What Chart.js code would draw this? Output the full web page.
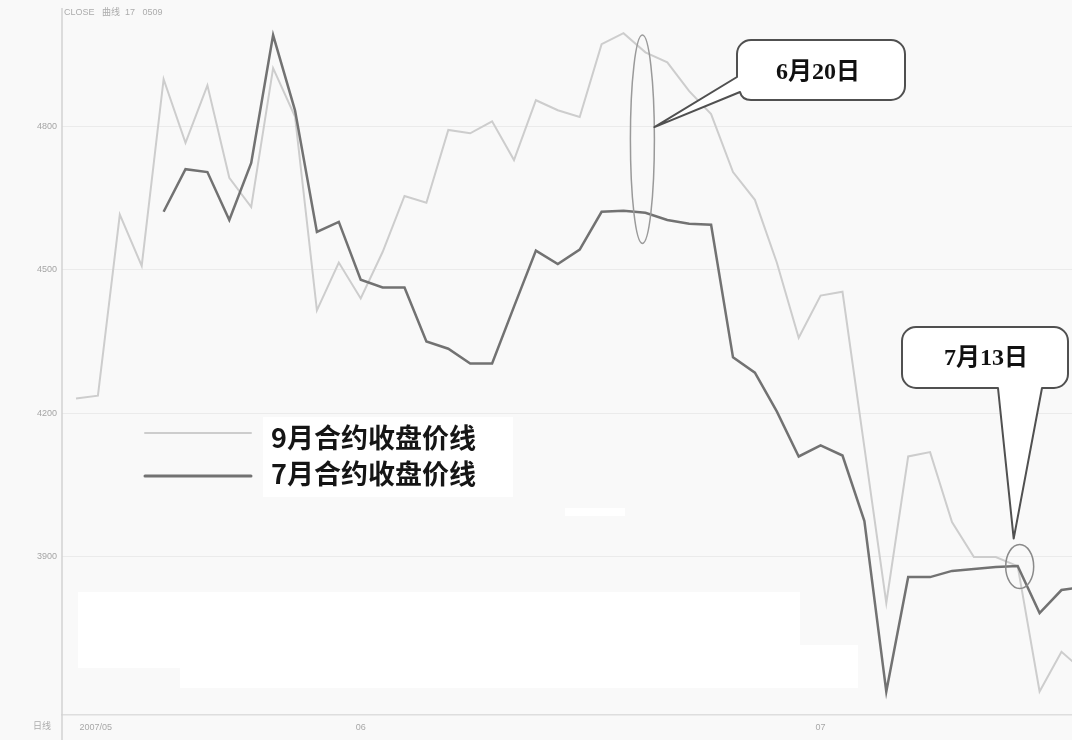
<!DOCTYPE html>
<html>
<head>
  <meta charset="UTF-8" />
  <title>9月与7月合约收盘价线</title>
  <script src="https://cdn.jsdelivr.net/npm/chart.js"></script>
  <style>
    html, body { margin: 0; padding: 0; background: #f9f9f9; overflow: hidden; }
    #wrap { width: 1072px; height: 740px; }
  </style>
</head>
<body>
  <div id="wrap"><canvas id="chart" width="1072" height="740"></canvas></div>

  <script>
    // trading days, 2007-05-15 .. 2007-07-18
    const dates = [
      '05-15','05-16','05-17','05-18','05-21','05-22','05-23','05-24','05-25','05-28','05-29','05-30','05-31',
      '06-01','06-04','06-05','06-06','06-07','06-08','06-11','06-12','06-13','06-14','06-15','06-18','06-19',
      '06-20','06-21','06-22','06-25','06-26','06-27','06-28','06-29',
      '07-02','07-03','07-04','07-05','07-06','07-09','07-10','07-11','07-12','07-13','07-16','07-17','07-18'
    ];
    // 9月合约收盘价
    const sep9 = [
      4231, 4237, 4615, 4508, 4898, 4765, 4885, 4692, 4631, 4921,
      4820, 4415, 4515, 4440, 4537, 4654, 4640, 4792, 4785, 4810,
      4729, 4854, 4833, 4819, 4971, 4994, 4954, 4933, 4873, 4825,
      4704, 4646, 4515, 4358, 4446, 4454, 4129, 3804, 4110, 4119,
      3973, 3900, 3900, 3881, 3619, 3702, 3662
    ];
    // 7月合约收盘价
    const jul7 = [
      null, null, null, null, 4621, 4710, 4704, 4604, 4723, 4990,
      4833, 4579, 4600, 4479, 4463, 4463, 4350, 4335, 4304, 4304,
      4423, 4540, 4512, 4542, 4621, 4623, 4619, 4604, 4596, 4594,
      4317, 4285, 4204, 4110, 4133, 4112, 3975, 3619, 3858, 3858,
      3871, 3875, 3879, 3881, 3783, 3831, 3838
    ];
    const yTicks = [3900, 4200, 4500, 4800];
    const xTickPos = [0.9, 13, 34];
    const xTickLabels = ['2007/05', '06', '07'];
    const legendNames = ['9月合约收盘价线', '7月合约收盘价线'];

    const toPoints = arr => arr.map((v, i) => ({ x: i, y: v }));

    const decor = {
      id: 'decor',
      beforeDraw(chart) {
        const ctx = chart.ctx;
        ctx.save();
        ctx.fillStyle = '#f9f9f9';
        ctx.fillRect(0, 0, chart.width, chart.height);
        // erased patches of the scan
        ctx.fillStyle = '#ffffff';
        ctx.fillRect(78, 592, 722, 76);
        ctx.fillRect(180, 645, 678, 43);
        ctx.fillRect(565, 508, 60, 8);
        ctx.restore();
      },
      afterDraw(chart) {
        const ctx = chart.ctx;
        const xs = chart.scales.x, ys = chart.scales.y;
        ctx.save();

        // y axis line
        ctx.strokeStyle = '#d2d2d2';
        ctx.lineWidth = 1.5;
        ctx.beginPath();
        ctx.moveTo(62, 8);
        ctx.lineTo(62, 740);
        ctx.stroke();

        // small header / footer texts
        ctx.fillStyle = '#acacac';
        ctx.font = '9px "Liberation Sans", "Noto Sans CJK SC"';
        ctx.textBaseline = 'middle';
        ctx.textAlign = 'left';
        ctx.fillText('CLOSE   曲线  17   0509', 64, 13);
        ctx.textAlign = 'center';
        ctx.fillText('日线', 42, 727);

        // legend
        ctx.fillStyle = '#ffffff';
        ctx.fillRect(263, 417, 250, 80);
        ctx.lineCap = 'round';
        ctx.strokeStyle = '#cdcdcd';
        ctx.lineWidth = 2;
        ctx.beginPath(); ctx.moveTo(145, 433); ctx.lineTo(251, 433); ctx.stroke();
        ctx.strokeStyle = '#727272';
        ctx.lineWidth = 3;
        ctx.beginPath(); ctx.moveTo(145, 476); ctx.lineTo(251, 476); ctx.stroke();
        ctx.fillStyle = '#151515';
        ctx.font = 'bold 27px "Noto Sans CJK SC"';
        ctx.textAlign = 'left';
        ctx.textBaseline = 'middle';
        ctx.fillText(legendNames[0], 271, 438);
        ctx.fillText(legendNames[1], 271, 474);

        // ellipse around 6月20日
        const i620 = dates.indexOf('06-20');
        const ex = xs.getPixelForValue(i620) - 3;
        const eTop = ys.getPixelForValue(4990), eBot = ys.getPixelForValue(4555);
        ctx.strokeStyle = '#9a9a9a';
        ctx.lineWidth = 1.5;
        ctx.beginPath();
        ctx.ellipse(ex, (eTop + eBot) / 2, 12, (eBot - eTop) / 2, 0, 0, Math.PI * 2);
        ctx.stroke();

        // callout 6月20日
        const tip1 = { x: ex + 12, y: ys.getPixelForValue(4800) + 1 };
        let bx = 737, by = 40, bw = 168, bh = 60, r = 14;
        ctx.beginPath();
        ctx.moveTo(bx + r, by);
        ctx.lineTo(bx + bw - r, by);
        ctx.arcTo(bx + bw, by, bx + bw, by + r, r);
        ctx.lineTo(bx + bw, by + bh - r);
        ctx.arcTo(bx + bw, by + bh, bx + bw - r, by + bh, r);
        ctx.lineTo(bx + r, by + bh);
        ctx.quadraticCurveTo(bx + 5, by + bh, bx + 3, by + bh - 8);
        ctx.lineTo(tip1.x, tip1.y);
        ctx.lineTo(bx, by + 37);
        ctx.lineTo(bx, by + r);
        ctx.arcTo(bx, by, bx + r, by, r);
        ctx.closePath();
        ctx.fillStyle = '#ffffff';
        ctx.fill();
        ctx.strokeStyle = '#505050';
        ctx.lineWidth = 2;
        ctx.lineJoin = 'round';
        ctx.stroke();
        ctx.fillStyle = '#111';
        ctx.font = 'bold 24px "Liberation Serif", "Noto Sans CJK SC"';
        ctx.textAlign = 'center';
        ctx.fillText('6月20日', 818, 73);

        // circle around 7月13日
        const i713 = dates.indexOf('07-13');
        const cx = xs.getPixelForValue(i713) + 2;
        const cy = ys.getPixelForValue(3880);
        ctx.strokeStyle = '#8a8a8a';
        ctx.lineWidth = 1.5;
        ctx.beginPath();
        ctx.ellipse(cx, cy, 14, 22, 0, 0, Math.PI * 2);
        ctx.stroke();

        // callout 7月13日
        const tip2 = { x: cx - 6, y: cy - 28 };
        bx = 902; by = 327; bw = 166; bh = 61; r = 14;
        ctx.beginPath();
        ctx.moveTo(bx + r, by);
        ctx.lineTo(bx + bw - r, by);
        ctx.arcTo(bx + bw, by, bx + bw, by + r, r);
        ctx.lineTo(bx + bw, by + bh - r);
        ctx.arcTo(bx + bw, by + bh, bx + bw - r, by + bh, r);
        ctx.lineTo(1042, by + bh);
        ctx.lineTo(tip2.x, tip2.y);
        ctx.lineTo(998, by + bh);
        ctx.lineTo(bx + r, by + bh);
        ctx.arcTo(bx, by + bh, bx, by + bh - r, r);
        ctx.lineTo(bx, by + r);
        ctx.arcTo(bx, by, bx + r, by, r);
        ctx.closePath();
        ctx.fillStyle = '#ffffff';
        ctx.fill();
        ctx.strokeStyle = '#505050';
        ctx.lineWidth = 2;
        ctx.stroke();
        ctx.fillStyle = '#111';
        ctx.font = 'bold 24px "Liberation Serif", "Noto Sans CJK SC"';
        ctx.textAlign = 'center';
        ctx.fillText('7月13日', 986, 359);

        ctx.restore();
      }
    };

    new Chart(document.getElementById('chart'), {
      type: 'line',
      data: {
        datasets: [
          {
            label: legendNames[1],
            data: toPoints(jul7),
            borderColor: '#727272',
            borderWidth: 2.5,
            pointRadius: 0,
            tension: 0,
            spanGaps: false
          },
          {
            label: legendNames[0],
            data: toPoints(sep9),
            borderColor: '#cdcdcd',
            borderWidth: 2,
            pointRadius: 0,
            tension: 0
          }
        ]
      },
      options: {
        responsive: false,
        animation: false,
        layout: { padding: { top: 15, left: 0, right: 0, bottom: 0 } },
        plugins: {
          legend: { display: false },
          tooltip: { enabled: false }
        },
        scales: {
          x: {
            type: 'linear',
            min: -0.64,
            max: 45.48,
            afterBuildTicks: s => { s.ticks = xTickPos.map(v => ({ value: v })); },
            afterFit: s => { s.height = 25; },
            grid: { display: false, drawTicks: false },
            border: { display: true, color: '#dedede', width: 1.5 },
            ticks: {
              autoSkip: false,
              maxRotation: 0,
              padding: 7,
              color: '#a8a8a8',
              font: { size: 9, family: 'Liberation Sans' },
              callback: (v, i) => xTickLabels[i]
            }
          },
          y: {
            min: 3570,
            max: 5032,
            afterBuildTicks: s => { s.ticks = yTicks.map(v => ({ value: v })); },
            afterFit: s => { s.width = 62; },
            grid: { color: '#ebebeb', lineWidth: 1, drawTicks: false },
            border: { display: false },
            ticks: {
              padding: 5,
              color: '#a5a5a5',
              font: { size: 9, family: 'Liberation Sans' },
              callback: v => String(v)
            }
          }
        }
      },
      plugins: [decor]
    });
  </script>
</body>
</html>
